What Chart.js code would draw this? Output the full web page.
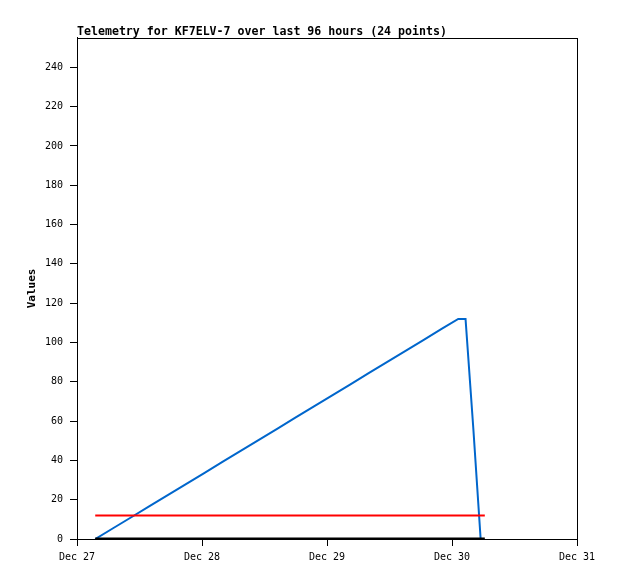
<!DOCTYPE html>
<html>
<head>
<meta charset="utf-8">
<script src="https://cdn.jsdelivr.net/npm/chart.js@4/dist/chart.umd.min.js"></script>
<style>
  html, body { margin: 0; padding: 0; background: #fff; }
  canvas { display: block; }
</style>
</head>
<body>
<canvas id="c" width="618" height="579"></canvas>
<script>
// ── 데이터 ───────────────────────────────────────────
// x = hours since Dec 27 00:00
const dayLabels = ["Dec 27", "Dec 28", "Dec 29", "Dec 30", "Dec 31"];
const blueHours  = [3.5, 7, 10.5, 14, 17.5, 21, 24.5, 28, 31.5, 35, 38.5, 42, 45.5, 49, 52.5, 56, 59.5, 63, 66.5, 70, 73.2, 74.6, 76.1, 77.5];
const blueValues = [0, 5.6, 11.2, 16.9, 22.5, 28.1, 33.7, 39.4, 45.0, 50.6, 56.2, 61.9, 67.5, 73.1, 78.7, 84.4, 90.0, 95.6, 101.2, 106.9, 112, 112, 56, 0];
const flatHours  = [3.5, 78.3];
const redValues  = [12, 12];
const blackValues= [0, 0];

const FONT = "'DejaVu Sans Mono', monospace";

const pts = (xs, ys) => xs.map((x, i) => ({ x, y: ys[i] }));

// ── 테두리 플러그인 ───────────────────────────────────
const framePlugin = {
    id: "frame",
    afterDraw(c) {
        const { ctx, chartArea: a } = c;
        ctx.save();
        ctx.strokeStyle = "#000";
        ctx.lineWidth = 1;
        ctx.strokeRect(Math.round(a.left) + 0.5, Math.round(a.top) + 0.5,
                       Math.round(a.right - a.left), Math.round(a.bottom - a.top));
        ctx.restore();
    }
};

new Chart(document.getElementById("c"), {
    type: "line",
    data: { datasets: [
        { data: pts(flatHours, blackValues), borderColor: "#000", borderWidth: 3, pointRadius: 0, tension: 0 },
        { data: pts(flatHours, redValues),   borderColor: "#ff0000", borderWidth: 2, pointRadius: 0, tension: 0 },
        { data: pts(blueHours, blueValues),  borderColor: "#0066cc", borderWidth: 2, pointRadius: 0, tension: 0 },
    ]},
    options: {
        responsive: false,
        animation: false,
        layout: { padding: { left: 0, right: 41, top: 0, bottom: 0 } },
        scales: {
            x: {
                type: "linear", min: 0, max: 96,
                afterBuildTicks: (axis) => { axis.ticks = dayLabels.map((_, i) => ({ value: i * 24 })); },
                afterFit: (axis) => { axis.height = 40; },
                ticks: {
                    color: "#000", font: { family: FONT, size: 10 }, padding: 5, maxRotation: 0,
                    callback: (v) => dayLabels[v / 24],
                },
                grid: { drawOnChartArea: false, color: "#000", tickLength: 7 },
                border: { color: "#000" },
            },
            y: {
                min: 0, max: 255,
                afterBuildTicks: (axis) => {
                    const t = [];
                    for (let v = 0; v <= 240; v += 20) t.push({ value: v });
                    axis.ticks = t;
                },
                afterFit: (axis) => { axis.width = 77; },
                ticks: { color: "#000", font: { family: FONT, size: 10 }, padding: 7 },
                grid: { drawOnChartArea: false, color: "#000", tickLength: 7 },
                border: { color: "#000" },
                title: { display: true, text: "Values", color: "#000",
                         font: { family: FONT, size: 11, weight: "bold" }, padding: { top: 26, bottom: 0 } },
            },
        },
        plugins: {
            legend: { display: false },
            tooltip: { enabled: false },
            title: {
                display: true, align: "start", fullSize: false,
                text: "Telemetry for KF7ELV-7 over last 96 hours (24 points)",
                color: "#000", font: { family: FONT, size: 11.6, weight: "bold", lineHeight: 1.2 },
                padding: { top: 25, bottom: -1 },
            },
        },
    },
    plugins: [framePlugin],
});
</script>
</body>
</html>
